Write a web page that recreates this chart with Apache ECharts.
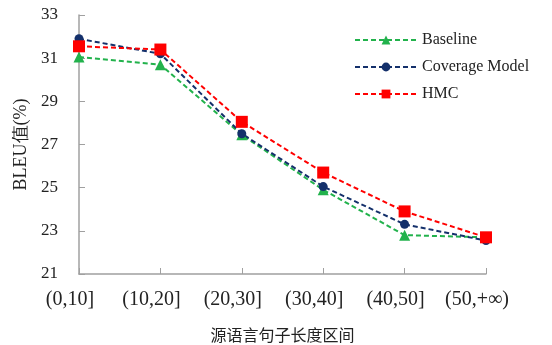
<!DOCTYPE html>
<html><head><meta charset="utf-8">
<script src="https://cdn.jsdelivr.net/npm/echarts@6/dist/echarts.min.js"></script>
<style>html,body{margin:0;padding:0;background:#fff}#c{width:552px;height:345px}</style>
</head><body><div id="c"></div>
<script>
const categories = ['(0,10]', '(10,20]', '(20,30]', '(30,40]', '(40,50]', '(50,+∞)'];
const baseline = [31.05, 30.7, 27.45, 24.9, 22.8, 22.7];
const coverage = [31.9, 31.2, 27.5, 25.05, 23.3, 22.55];
const hmc = [31.55, 31.4, 28.05, 25.7, 23.9, 22.7];
const yTicks = [21, 23, 25, 27, 29, 31, 33];

const serif = "'Liberation Serif','DejaVu Serif',serif";
const chart = echarts.init(document.getElementById('c'), null, {renderer: 'canvas'});
function mk(name, data, color, symbol, size) {
  return {
    name, type: 'line', data, symbol, symbolSize: size,
    lineStyle: {color, width: 2, type: [5, 3]},
    itemStyle: {color},
    z: name === 'HMC' ? 3 : 2
  };
}
chart.setOption({
  animation: false,
  backgroundColor: '#fff',
  grid: {left: 79, right: 66, top: 15, bottom: 71, containLabel: false, outerBoundsMode: 'none'},
  legend: {
    orient: 'vertical', left: 349, top: 27, itemWidth: 62, itemHeight: 11, itemGap: 11,
    textStyle: {fontFamily: serif, fontSize: 16, color: '#222'},
    data: ['Baseline', 'Coverage Model', 'HMC']
  },
  xAxis: {
    type: 'category', data: categories, boundaryGap: false,
    name: '源语言句子长度区间', nameLocation: 'middle', nameGap: 53,
    nameTextStyle: {fontFamily: "'Noto Sans CJK SC',serif", fontSize: 16, color: '#222'},
    axisLine: {lineStyle: {color: '#a0a0a0', width: 1.5}},
    axisTick: {inside: true, length: 6, interval: 0, lineStyle: {color: '#a0a0a0'}},
    axisLabel: {fontFamily: serif, fontSize: 20, color: '#222', margin: 16, interval: 0,
      hideOverlap: false, padding: [0, 18, 0, 0]}
  },
  yAxis: {
    type: 'value', min: 21, max: 33, interval: 2,
    name: 'BLEU值(%)', nameLocation: 'middle', nameGap: 40, nameRotate: 90,
    nameTextStyle: {fontFamily: serif, fontSize: 18, color: '#222'},
    axisLine: {show: true, lineStyle: {color: '#a0a0a0', width: 1.5}},
    axisTick: {show: true, inside: true, length: 6, lineStyle: {color: '#a0a0a0'}},
    splitLine: {show: false},
    axisLabel: {fontFamily: serif, fontSize: 17, color: '#222', margin: 21,
      formatter: v => yTicks.includes(v) ? String(v) : ''}
  },
  series: [
    mk('Baseline', baseline, '#22b24c', 'triangle', 11),
    mk('Coverage Model', coverage, '#14306b', 'circle', 9),
    mk('HMC', hmc, '#ff0000', 'rect', 12)
  ]
});
</script></body></html>
